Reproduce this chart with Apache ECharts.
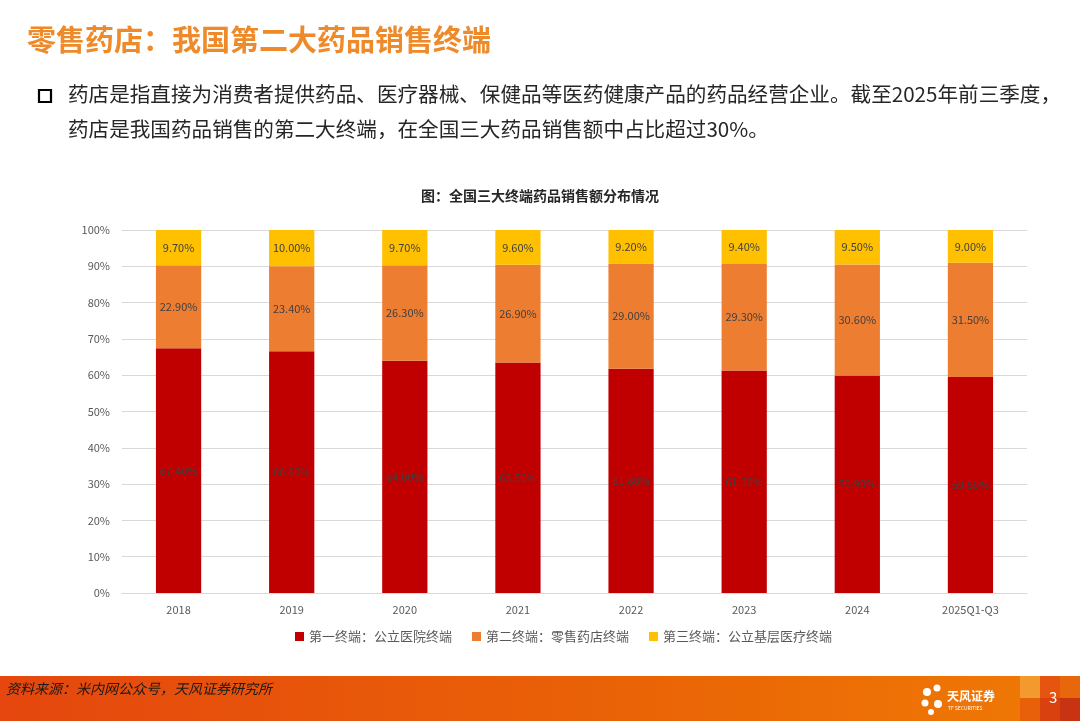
<!DOCTYPE html>
<html><head><meta charset="utf-8">
<script src="https://cdn.jsdelivr.net/npm/echarts@6/dist/echarts.min.js"></script>
<style>html,body{margin:0;padding:0;background:#fff}#c{width:1080px;height:721px}</style>
</head><body><div id="c"></div>
<script>
const categories = ['2018','2019','2020','2021','2022','2023','2024','2025Q1-Q3'];
const hospital = [67.4, 66.6, 64.0, 63.5, 61.8, 61.3, 59.9, 59.5];
const retail = [22.9, 23.4, 26.3, 26.9, 29.0, 29.3, 30.6, 31.5];
const primary = [9.7, 10.0, 9.7, 9.6, 9.2, 9.4, 9.5, 9.0];
const seriesNames = ['第一终端：公立医院终端','第二终端：零售药店终端','第三终端：公立基层医疗终端'];
const yTicks = [0,10,20,30,40,50,60,70,80,90,100];

const chart = echarts.init(document.getElementById('c'));
const F = '"Noto Sans CJK SC","Noto Sans",sans-serif';
const lbl = {show:true, position:'inside', fontSize:11, color:'#404040', fontFamily:F,
  formatter: p => p.value.toFixed(2)+'%'};
const colors = ['#C00000','#ED7D31','#FFC000'];
chart.setOption({
  animation:false,
  title:{text:'图：全国三大终端药品销售额分布情况', left:'center', top:184,
    textStyle:{fontSize:14, fontWeight:'bold', color:'#262626', fontFamily:F}},
  grid:{left:122, right:53, top:230, bottom:128},
  legend:{bottom:73, left:290, itemWidth:9, itemHeight:9, icon:'rect', itemGap:20,
    textStyle:{fontSize:13, color:'#595959', fontFamily:F}},
  xAxis:{type:'category', data:categories,
    axisLine:{lineStyle:{color:'#d9d9d9'}}, axisTick:{show:false},
    axisLabel:{fontSize:11, color:'#595959', margin:11, fontFamily:F}},
  yAxis:{type:'value', min:0, max:100, interval:10,
    axisLine:{show:false}, axisTick:{show:false},
    splitLine:{lineStyle:{color:'#d9d9d9'}},
    axisLabel:{fontSize:11, color:'#595959', margin:12, fontFamily:F,
      formatter: v => yTicks.includes(v) ? v+'%' : ''}},
  series:[
    {name:seriesNames[0], type:'bar', stack:'a', data:hospital, barWidth:'40%', itemStyle:{color:colors[0]}, label:lbl},
    {name:seriesNames[1], type:'bar', stack:'a', data:retail, itemStyle:{color:colors[1]}, label:lbl},
    {name:seriesNames[2], type:'bar', stack:'a', data:primary, itemStyle:{color:colors[2]}, label:lbl}
  ],
  graphic:[
    {type:'text', left:27, top:25, style:{text:'零售药店：我国第二大药品销售终端', fontSize:29, fontWeight:'bold', fill:'#EE8A2A', fontFamily:F}},
    {type:'rect', shape:{x:39, y:90, width:12, height:12}, style:{fill:'none', stroke:'#000', lineWidth:2.2}},
    {type:'text', left:68, top:84, style:{text:'药店是指直接为消费者提供药品、医疗器械、保健品等医药健康产品的药品经营企业。截至2025年前三季度，', fontSize:20.6, fill:'#262626', fontFamily:F}},
    {type:'text', left:68, top:119, style:{text:'药店是我国药品销售的第二大终端，在全国三大药品销售额中占比超过30%。', fontSize:20.6, fill:'#262626', fontFamily:F}},
    {type:'rect', shape:{x:0, y:676, width:1080, height:45}, style:{fill:new echarts.graphic.LinearGradient(0,0,1,0,[{offset:0,color:'#E5470E'},{offset:0.6,color:'#EA6406'},{offset:1,color:'#EF7A05'}])}},
    {type:'rect', shape:{x:1020, y:676, width:20, height:22}, style:{fill:'#F29A2E'}},
    {type:'rect', shape:{x:1040, y:676, width:20, height:22}, style:{fill:'#E6550F'}},
    {type:'rect', shape:{x:1060, y:676, width:20, height:22}, style:{fill:'#E9670C'}},
    {type:'rect', shape:{x:1020, y:698, width:20, height:23}, style:{fill:'#E8600A'}},
    {type:'rect', shape:{x:1040, y:698, width:20, height:23}, style:{fill:'#D9410F'}},
    {type:'rect', shape:{x:1060, y:698, width:20, height:23}, style:{fill:'#C83311'}},
    {type:'text', left:6, top:682, style:{text:'资料来源：米内网公众号，天风证券研究所', fontSize:14, fontStyle:'italic', fill:'#1a1a1a', fontFamily:F}},
    {type:'text', left:1049, top:690, style:{text:'3', fontSize:15, fill:'#fff', fontFamily:F}},
    {type:'circle', shape:{cx:927, cy:692, r:4}, style:{fill:'#fff'}},
    {type:'circle', shape:{cx:937, cy:688, r:3.5}, style:{fill:'#fff'}},
    {type:'circle', shape:{cx:925, cy:703, r:3.5}, style:{fill:'#fff'}},
    {type:'circle', shape:{cx:938, cy:704, r:4}, style:{fill:'#fff'}},
    {type:'circle', shape:{cx:931, cy:712, r:3}, style:{fill:'#fff'}},
    {type:'text', left:947, top:690, style:{text:'天风证券', fontSize:12, fontWeight:'bold', fill:'#fff', fontFamily:F}},
    {type:'text', left:948, top:706, style:{text:'TF SECURITIES', fontSize:5, fill:'#fff', fontFamily:F}}
  ]
});
</script></body></html>
